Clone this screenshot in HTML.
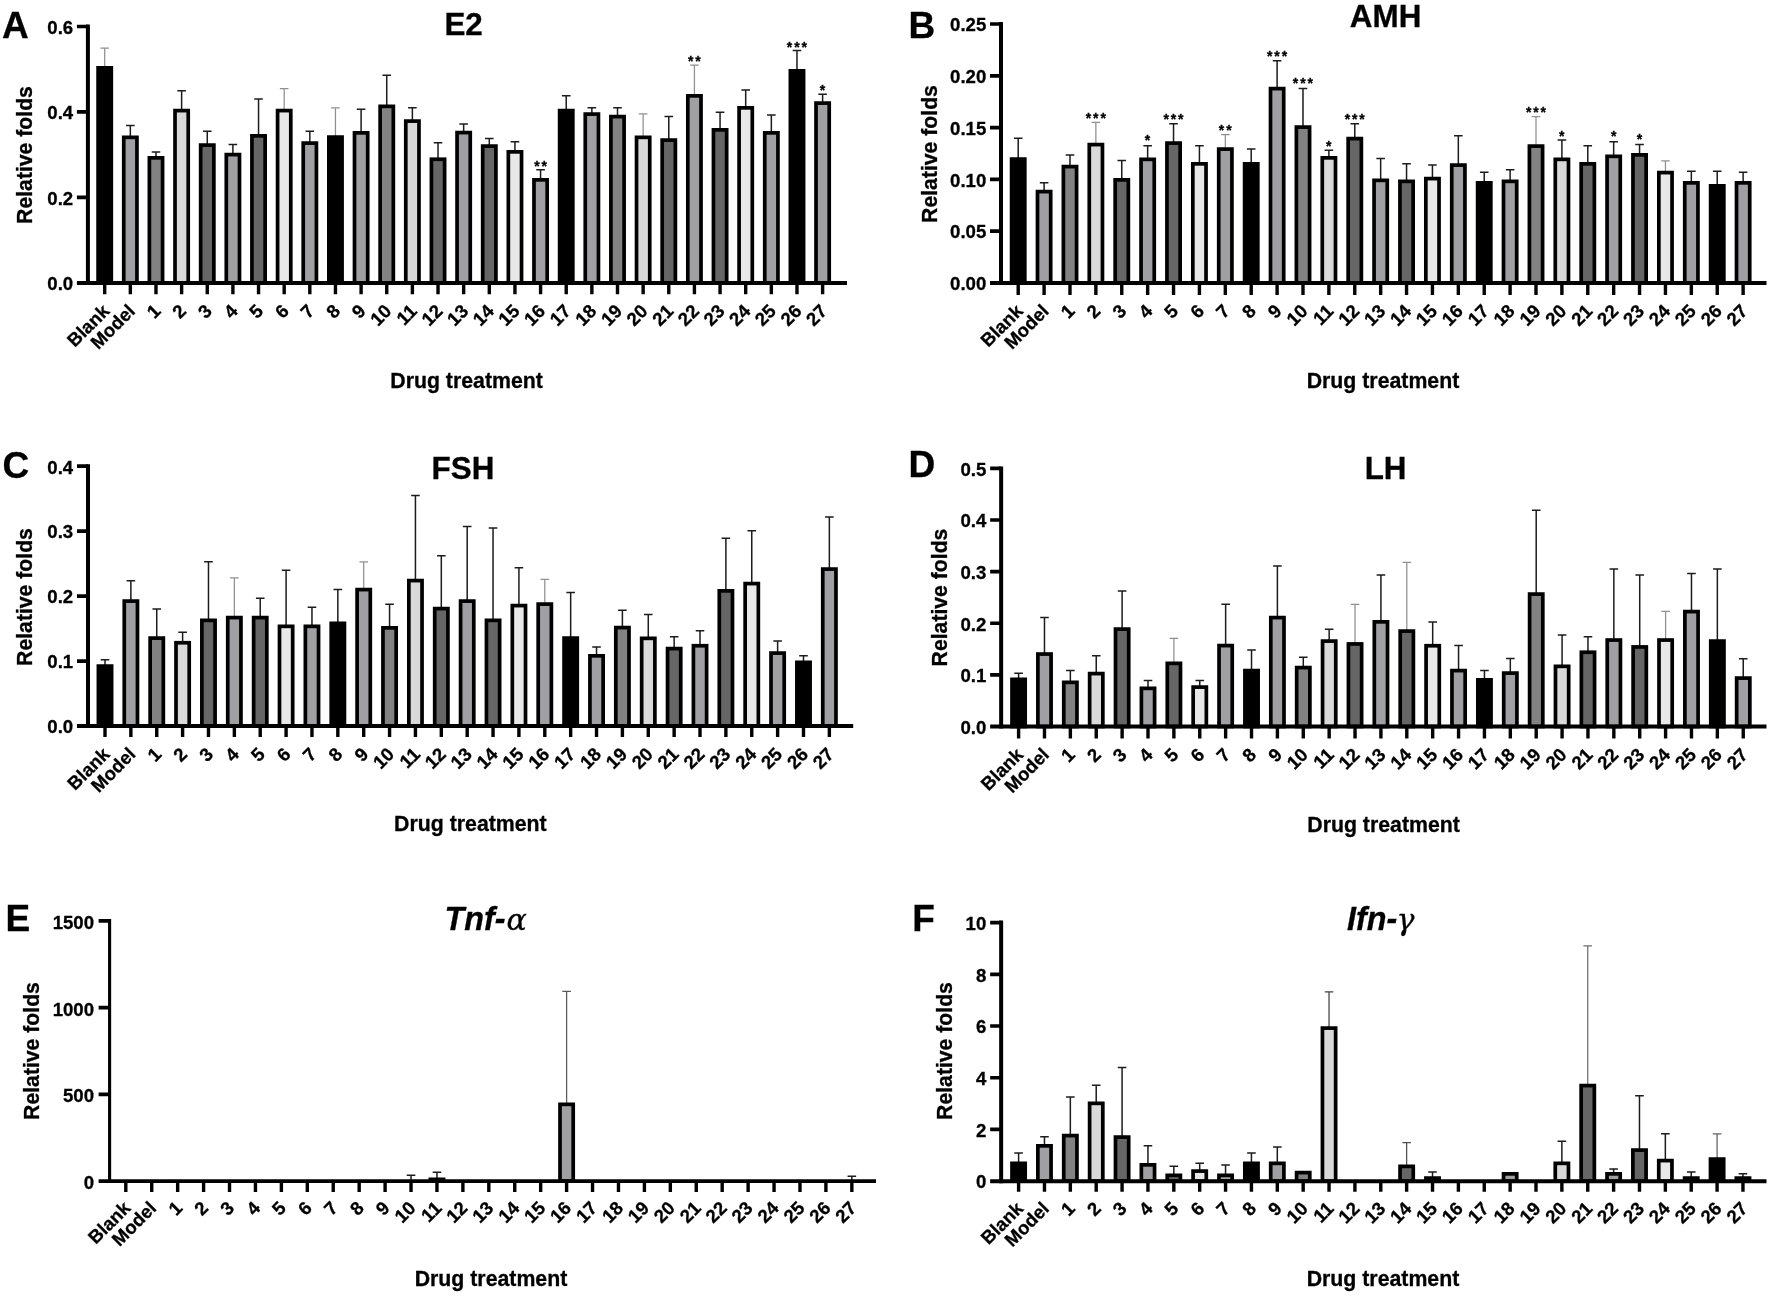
<!DOCTYPE html>
<html lang="en">
<head>
<meta charset="utf-8">
<title>Relative folds by drug treatment</title>
<style>
html,body{margin:0;padding:0;background:#fff;}
body{width:1772px;height:1296px;overflow:hidden;}
svg{display:block;filter:blur(0.45px);}
svg text{font-family:"Liberation Sans", Arial, Helvetica, sans-serif;font-weight:700;fill:#000;stroke:#000;stroke-width:0.3px;}
</style>
</head>
<body>
<svg width="1772" height="1296" viewBox="0 0 1772 1296">
<rect width="1772" height="1296" fill="#fff"/>
<g id="panel-A">
<path d="M104.7 67V48.2M100.4 48.2H109" stroke="#909090" stroke-width="1.25" fill="none"/>
<rect x="98.1" y="67.85" width="13.2" height="215.05" fill="#000000" stroke="#000" stroke-width="3.7"/>
<path d="M130.34 136.5V125.5M126.04 125.5H134.64" stroke="#1c1c1c" stroke-width="1.5" fill="none"/>
<rect x="123.74" y="137.35" width="13.2" height="145.55" fill="#a0a0a4" stroke="#000" stroke-width="3.7"/>
<path d="M155.98 157V152M151.68 152H160.28" stroke="#1c1c1c" stroke-width="1.5" fill="none"/>
<rect x="149.38" y="157.85" width="13.2" height="125.05" fill="#828282" stroke="#000" stroke-width="3.7"/>
<path d="M181.62 109.75V90.75M177.32 90.75H185.92" stroke="#1c1c1c" stroke-width="1.5" fill="none"/>
<rect x="175.02" y="110.6" width="13.2" height="172.3" fill="#d9d9d9" stroke="#000" stroke-width="3.7"/>
<path d="M207.26 144.25V131.25M202.96 131.25H211.56" stroke="#1c1c1c" stroke-width="1.5" fill="none"/>
<rect x="200.66" y="145.1" width="13.2" height="137.8" fill="#666666" stroke="#000" stroke-width="3.7"/>
<path d="M232.9 153.75V144.5M228.6 144.5H237.2" stroke="#1c1c1c" stroke-width="1.5" fill="none"/>
<rect x="226.3" y="154.6" width="13.2" height="128.3" fill="#a0a0a4" stroke="#000" stroke-width="3.7"/>
<path d="M258.54 135V99M254.24 99H262.84" stroke="#1c1c1c" stroke-width="1.5" fill="none"/>
<rect x="251.94" y="135.85" width="13.2" height="147.05" fill="#666666" stroke="#000" stroke-width="3.7"/>
<path d="M284.18 109.75V88.5M279.88 88.5H288.48" stroke="#909090" stroke-width="1.25" fill="none"/>
<rect x="277.58" y="110.6" width="13.2" height="172.3" fill="#e8e8e8" stroke="#000" stroke-width="3.7"/>
<path d="M309.82 142.25V131.25M305.52 131.25H314.12" stroke="#1c1c1c" stroke-width="1.5" fill="none"/>
<rect x="303.22" y="143.1" width="13.2" height="139.8" fill="#a0a0a4" stroke="#000" stroke-width="3.7"/>
<path d="M335.46 136.25V107.75M331.16 107.75H339.76" stroke="#909090" stroke-width="1.25" fill="none"/>
<rect x="328.86" y="137.1" width="13.2" height="145.8" fill="#000000" stroke="#000" stroke-width="3.7"/>
<path d="M361.1 132V109.25M356.8 109.25H365.4" stroke="#1c1c1c" stroke-width="1.5" fill="none"/>
<rect x="354.5" y="132.85" width="13.2" height="150.05" fill="#a0a0a4" stroke="#000" stroke-width="3.7"/>
<path d="M386.74 105.5V75.25M382.44 75.25H391.04" stroke="#1c1c1c" stroke-width="1.5" fill="none"/>
<rect x="380.14" y="106.35" width="13.2" height="176.55" fill="#828282" stroke="#000" stroke-width="3.7"/>
<path d="M412.38 120.25V107.75M408.08 107.75H416.68" stroke="#1c1c1c" stroke-width="1.5" fill="none"/>
<rect x="405.78" y="121.1" width="13.2" height="161.8" fill="#d9d9d9" stroke="#000" stroke-width="3.7"/>
<path d="M438.02 158.4V142.75M433.72 142.75H442.32" stroke="#1c1c1c" stroke-width="1.5" fill="none"/>
<rect x="431.42" y="159.25" width="13.2" height="123.65" fill="#666666" stroke="#000" stroke-width="3.7"/>
<path d="M463.66 131.75V124M459.36 124H467.96" stroke="#1c1c1c" stroke-width="1.5" fill="none"/>
<rect x="457.06" y="132.6" width="13.2" height="150.3" fill="#a0a0a4" stroke="#000" stroke-width="3.7"/>
<path d="M489.3 145.25V138.5M485 138.5H493.6" stroke="#1c1c1c" stroke-width="1.5" fill="none"/>
<rect x="482.7" y="146.1" width="13.2" height="136.8" fill="#666666" stroke="#000" stroke-width="3.7"/>
<path d="M514.94 151V141.75M510.64 141.75H519.24" stroke="#1c1c1c" stroke-width="1.5" fill="none"/>
<rect x="508.34" y="151.85" width="13.2" height="131.05" fill="#e8e8e8" stroke="#000" stroke-width="3.7"/>
<path d="M540.58 179V169.75M536.28 169.75H544.88" stroke="#1c1c1c" stroke-width="1.5" fill="none"/>
<rect x="533.98" y="179.85" width="13.2" height="103.05" fill="#a0a0a4" stroke="#000" stroke-width="3.7"/>
<path d="M566.22 109.75V95.75M561.92 95.75H570.52" stroke="#1c1c1c" stroke-width="1.5" fill="none"/>
<rect x="559.62" y="110.6" width="13.2" height="172.3" fill="#000000" stroke="#000" stroke-width="3.7"/>
<path d="M591.86 113.25V107.75M587.56 107.75H596.16" stroke="#1c1c1c" stroke-width="1.5" fill="none"/>
<rect x="585.26" y="114.1" width="13.2" height="168.8" fill="#a0a0a4" stroke="#000" stroke-width="3.7"/>
<path d="M617.5 115.75V107.75M613.2 107.75H621.8" stroke="#1c1c1c" stroke-width="1.5" fill="none"/>
<rect x="610.9" y="116.6" width="13.2" height="166.3" fill="#828282" stroke="#000" stroke-width="3.7"/>
<path d="M643.14 136.5V113.75M638.84 113.75H647.44" stroke="#909090" stroke-width="1.25" fill="none"/>
<rect x="636.54" y="137.35" width="13.2" height="145.55" fill="#d9d9d9" stroke="#000" stroke-width="3.7"/>
<path d="M668.78 139.25V116.5M664.48 116.5H673.08" stroke="#1c1c1c" stroke-width="1.5" fill="none"/>
<rect x="662.18" y="140.1" width="13.2" height="142.8" fill="#666666" stroke="#000" stroke-width="3.7"/>
<path d="M694.42 95V65M690.12 65H698.72" stroke="#909090" stroke-width="1.25" fill="none"/>
<rect x="687.82" y="95.85" width="13.2" height="187.05" fill="#a0a0a4" stroke="#000" stroke-width="3.7"/>
<path d="M720.06 129V112.25M715.76 112.25H724.36" stroke="#1c1c1c" stroke-width="1.5" fill="none"/>
<rect x="713.46" y="129.85" width="13.2" height="153.05" fill="#666666" stroke="#000" stroke-width="3.7"/>
<path d="M745.7 107V90M741.4 90H750" stroke="#1c1c1c" stroke-width="1.5" fill="none"/>
<rect x="739.1" y="107.85" width="13.2" height="175.05" fill="#e8e8e8" stroke="#000" stroke-width="3.7"/>
<path d="M771.34 132V115M767.04 115H775.64" stroke="#1c1c1c" stroke-width="1.5" fill="none"/>
<rect x="764.74" y="132.85" width="13.2" height="150.05" fill="#a0a0a4" stroke="#000" stroke-width="3.7"/>
<path d="M796.98 70V50.5M792.68 50.5H801.28" stroke="#1c1c1c" stroke-width="1.5" fill="none"/>
<rect x="790.38" y="70.85" width="13.2" height="212.05" fill="#000000" stroke="#000" stroke-width="3.7"/>
<path d="M822.62 102.25V94.25M818.32 94.25H826.92" stroke="#1c1c1c" stroke-width="1.5" fill="none"/>
<rect x="816.02" y="103.1" width="13.2" height="179.8" fill="#a0a0a4" stroke="#000" stroke-width="3.7"/>
<text x="541.48" y="170.75" text-anchor="middle" font-size="14" font-weight="400" letter-spacing="1.9">**</text>
<text x="695.32" y="66.25" text-anchor="middle" font-size="14" font-weight="400" letter-spacing="1.9">**</text>
<text x="797.88" y="51.5" text-anchor="middle" font-size="14" font-weight="400" letter-spacing="1.9">***</text>
<text x="823.52" y="94.5" text-anchor="middle" font-size="14" font-weight="400" letter-spacing="1.9">*</text>
<path d="M87.9 24.5V284.9" stroke="#000" stroke-width="4" fill="none"/>
<path d="M76.9 282.9H847" stroke="#000" stroke-width="4" fill="none"/>
<text x="73.2" y="290.2" text-anchor="end" font-size="18.6">0.0</text>
<text x="73.2" y="204.73" text-anchor="end" font-size="18.6">0.2</text>
<text x="73.2" y="119.27" text-anchor="end" font-size="18.6">0.4</text>
<text x="73.2" y="33.8" text-anchor="end" font-size="18.6">0.6</text>
<path d="M76.9 197.43H87.9M76.9 111.97H87.9M76.9 26.5H87.9" stroke="#000" stroke-width="3.7" fill="none"/>
<text transform="translate(110.5 312.3) rotate(-45)" text-anchor="end" font-size="18.6">Blank</text>
<text transform="translate(136.14 312.3) rotate(-45)" text-anchor="end" font-size="18.6">Model</text>
<text transform="translate(161.78 312.3) rotate(-45)" text-anchor="end" font-size="18.6">1</text>
<text transform="translate(187.42 312.3) rotate(-45)" text-anchor="end" font-size="18.6">2</text>
<text transform="translate(213.06 312.3) rotate(-45)" text-anchor="end" font-size="18.6">3</text>
<text transform="translate(238.7 312.3) rotate(-45)" text-anchor="end" font-size="18.6">4</text>
<text transform="translate(264.34 312.3) rotate(-45)" text-anchor="end" font-size="18.6">5</text>
<text transform="translate(289.98 312.3) rotate(-45)" text-anchor="end" font-size="18.6">6</text>
<text transform="translate(315.62 312.3) rotate(-45)" text-anchor="end" font-size="18.6">7</text>
<text transform="translate(341.26 312.3) rotate(-45)" text-anchor="end" font-size="18.6">8</text>
<text transform="translate(366.9 312.3) rotate(-45)" text-anchor="end" font-size="18.6">9</text>
<text transform="translate(392.54 312.3) rotate(-45)" text-anchor="end" font-size="18.6">10</text>
<text transform="translate(418.18 312.3) rotate(-45)" text-anchor="end" font-size="18.6">11</text>
<text transform="translate(443.82 312.3) rotate(-45)" text-anchor="end" font-size="18.6">12</text>
<text transform="translate(469.46 312.3) rotate(-45)" text-anchor="end" font-size="18.6">13</text>
<text transform="translate(495.1 312.3) rotate(-45)" text-anchor="end" font-size="18.6">14</text>
<text transform="translate(520.74 312.3) rotate(-45)" text-anchor="end" font-size="18.6">15</text>
<text transform="translate(546.38 312.3) rotate(-45)" text-anchor="end" font-size="18.6">16</text>
<text transform="translate(572.02 312.3) rotate(-45)" text-anchor="end" font-size="18.6">17</text>
<text transform="translate(597.66 312.3) rotate(-45)" text-anchor="end" font-size="18.6">18</text>
<text transform="translate(623.3 312.3) rotate(-45)" text-anchor="end" font-size="18.6">19</text>
<text transform="translate(648.94 312.3) rotate(-45)" text-anchor="end" font-size="18.6">20</text>
<text transform="translate(674.58 312.3) rotate(-45)" text-anchor="end" font-size="18.6">21</text>
<text transform="translate(700.22 312.3) rotate(-45)" text-anchor="end" font-size="18.6">22</text>
<text transform="translate(725.86 312.3) rotate(-45)" text-anchor="end" font-size="18.6">23</text>
<text transform="translate(751.5 312.3) rotate(-45)" text-anchor="end" font-size="18.6">24</text>
<text transform="translate(777.14 312.3) rotate(-45)" text-anchor="end" font-size="18.6">25</text>
<text transform="translate(802.78 312.3) rotate(-45)" text-anchor="end" font-size="18.6">26</text>
<text transform="translate(828.42 312.3) rotate(-45)" text-anchor="end" font-size="18.6">27</text>
<path d="M104.7 282.9V294.2M130.34 282.9V294.2M155.98 282.9V294.2M181.62 282.9V294.2M207.26 282.9V294.2M232.9 282.9V294.2M258.54 282.9V294.2M284.18 282.9V294.2M309.82 282.9V294.2M335.46 282.9V294.2M361.1 282.9V294.2M386.74 282.9V294.2M412.38 282.9V294.2M438.02 282.9V294.2M463.66 282.9V294.2M489.3 282.9V294.2M514.94 282.9V294.2M540.58 282.9V294.2M566.22 282.9V294.2M591.86 282.9V294.2M617.5 282.9V294.2M643.14 282.9V294.2M668.78 282.9V294.2M694.42 282.9V294.2M720.06 282.9V294.2M745.7 282.9V294.2M771.34 282.9V294.2M796.98 282.9V294.2M822.62 282.9V294.2" stroke="#000" stroke-width="3.4" fill="none"/>
<text transform="translate(32 155) rotate(-90)" text-anchor="middle" font-size="21.2">Relative folds</text>
<text x="466.6" y="387.6" text-anchor="middle" font-size="21.3">Drug treatment</text>
<text x="463.6" y="34.5" text-anchor="middle" font-size="31.4">E2</text>
<text x="2" y="37.8" font-size="37">A</text>
</g>
<g id="panel-B">
<path d="M1018.2 158.25V138.25M1013.9 138.25H1022.5" stroke="#1c1c1c" stroke-width="1.5" fill="none"/>
<rect x="1011.6" y="159.1" width="13.2" height="123.8" fill="#000000" stroke="#000" stroke-width="3.7"/>
<path d="M1044.09 190.75V182.75M1039.79 182.75H1048.39" stroke="#1c1c1c" stroke-width="1.5" fill="none"/>
<rect x="1037.49" y="191.6" width="13.2" height="91.3" fill="#a0a0a4" stroke="#000" stroke-width="3.7"/>
<path d="M1069.98 165.75V155M1065.68 155H1074.28" stroke="#1c1c1c" stroke-width="1.5" fill="none"/>
<rect x="1063.38" y="166.6" width="13.2" height="116.3" fill="#828282" stroke="#000" stroke-width="3.7"/>
<path d="M1095.87 143.75V122.25M1091.57 122.25H1100.17" stroke="#909090" stroke-width="1.25" fill="none"/>
<rect x="1089.27" y="144.6" width="13.2" height="138.3" fill="#d9d9d9" stroke="#000" stroke-width="3.7"/>
<path d="M1121.76 179V160.5M1117.46 160.5H1126.06" stroke="#1c1c1c" stroke-width="1.5" fill="none"/>
<rect x="1115.16" y="179.85" width="13.2" height="103.05" fill="#666666" stroke="#000" stroke-width="3.7"/>
<path d="M1147.65 158.5V145.75M1143.35 145.75H1151.95" stroke="#1c1c1c" stroke-width="1.5" fill="none"/>
<rect x="1141.05" y="159.35" width="13.2" height="123.55" fill="#a0a0a4" stroke="#000" stroke-width="3.7"/>
<path d="M1173.54 142.25V123.75M1169.24 123.75H1177.84" stroke="#1c1c1c" stroke-width="1.5" fill="none"/>
<rect x="1166.94" y="143.1" width="13.2" height="139.8" fill="#666666" stroke="#000" stroke-width="3.7"/>
<path d="M1199.43 163V145.75M1195.13 145.75H1203.73" stroke="#1c1c1c" stroke-width="1.5" fill="none"/>
<rect x="1192.83" y="163.85" width="13.2" height="119.05" fill="#e8e8e8" stroke="#000" stroke-width="3.7"/>
<path d="M1225.32 148.25V134.5M1221.02 134.5H1229.62" stroke="#909090" stroke-width="1.25" fill="none"/>
<rect x="1218.72" y="149.1" width="13.2" height="133.8" fill="#a0a0a4" stroke="#000" stroke-width="3.7"/>
<path d="M1251.21 163V149M1246.91 149H1255.51" stroke="#1c1c1c" stroke-width="1.5" fill="none"/>
<rect x="1244.61" y="163.85" width="13.2" height="119.05" fill="#000000" stroke="#000" stroke-width="3.7"/>
<path d="M1277.1 87.75V60.75M1272.8 60.75H1281.4" stroke="#1c1c1c" stroke-width="1.5" fill="none"/>
<rect x="1270.5" y="88.6" width="13.2" height="194.3" fill="#a0a0a4" stroke="#000" stroke-width="3.7"/>
<path d="M1302.99 126.25V88.5M1298.69 88.5H1307.29" stroke="#1c1c1c" stroke-width="1.5" fill="none"/>
<rect x="1296.39" y="127.1" width="13.2" height="155.8" fill="#828282" stroke="#000" stroke-width="3.7"/>
<path d="M1328.88 157V150.25M1324.58 150.25H1333.18" stroke="#1c1c1c" stroke-width="1.5" fill="none"/>
<rect x="1322.28" y="157.85" width="13.2" height="125.05" fill="#d9d9d9" stroke="#000" stroke-width="3.7"/>
<path d="M1354.77 137.75V123.75M1350.47 123.75H1359.07" stroke="#1c1c1c" stroke-width="1.5" fill="none"/>
<rect x="1348.17" y="138.6" width="13.2" height="144.3" fill="#666666" stroke="#000" stroke-width="3.7"/>
<path d="M1380.66 179.5V158.5M1376.36 158.5H1384.96" stroke="#1c1c1c" stroke-width="1.5" fill="none"/>
<rect x="1374.06" y="180.35" width="13.2" height="102.55" fill="#a0a0a4" stroke="#000" stroke-width="3.7"/>
<path d="M1406.55 180.5V163.75M1402.25 163.75H1410.85" stroke="#1c1c1c" stroke-width="1.5" fill="none"/>
<rect x="1399.95" y="181.35" width="13.2" height="101.55" fill="#666666" stroke="#000" stroke-width="3.7"/>
<path d="M1432.44 177.75V165M1428.14 165H1436.74" stroke="#1c1c1c" stroke-width="1.5" fill="none"/>
<rect x="1425.84" y="178.6" width="13.2" height="104.3" fill="#e8e8e8" stroke="#000" stroke-width="3.7"/>
<path d="M1458.33 164.25V135.75M1454.03 135.75H1462.63" stroke="#1c1c1c" stroke-width="1.5" fill="none"/>
<rect x="1451.73" y="165.1" width="13.2" height="117.8" fill="#a0a0a4" stroke="#000" stroke-width="3.7"/>
<path d="M1484.22 182V172.25M1479.92 172.25H1488.52" stroke="#1c1c1c" stroke-width="1.5" fill="none"/>
<rect x="1477.62" y="182.85" width="13.2" height="100.05" fill="#000000" stroke="#000" stroke-width="3.7"/>
<path d="M1510.11 180.5V169.75M1505.81 169.75H1514.41" stroke="#1c1c1c" stroke-width="1.5" fill="none"/>
<rect x="1503.51" y="181.35" width="13.2" height="101.55" fill="#a0a0a4" stroke="#000" stroke-width="3.7"/>
<path d="M1536 145.25V116.5M1531.7 116.5H1540.3" stroke="#909090" stroke-width="1.25" fill="none"/>
<rect x="1529.4" y="146.1" width="13.2" height="136.8" fill="#828282" stroke="#000" stroke-width="3.7"/>
<path d="M1561.89 158.5V140M1557.59 140H1566.19" stroke="#1c1c1c" stroke-width="1.5" fill="none"/>
<rect x="1555.29" y="159.35" width="13.2" height="123.55" fill="#d9d9d9" stroke="#000" stroke-width="3.7"/>
<path d="M1587.78 163V145.75M1583.48 145.75H1592.08" stroke="#1c1c1c" stroke-width="1.5" fill="none"/>
<rect x="1581.18" y="163.85" width="13.2" height="119.05" fill="#666666" stroke="#000" stroke-width="3.7"/>
<path d="M1613.67 155.5V141.75M1609.37 141.75H1617.97" stroke="#1c1c1c" stroke-width="1.5" fill="none"/>
<rect x="1607.07" y="156.35" width="13.2" height="126.55" fill="#a0a0a4" stroke="#000" stroke-width="3.7"/>
<path d="M1639.56 154V144.5M1635.26 144.5H1643.86" stroke="#1c1c1c" stroke-width="1.5" fill="none"/>
<rect x="1632.96" y="154.85" width="13.2" height="128.05" fill="#666666" stroke="#000" stroke-width="3.7"/>
<path d="M1665.45 171.75V160.75M1661.15 160.75H1669.75" stroke="#909090" stroke-width="1.25" fill="none"/>
<rect x="1658.85" y="172.6" width="13.2" height="110.3" fill="#e8e8e8" stroke="#000" stroke-width="3.7"/>
<path d="M1691.34 182V171.25M1687.04 171.25H1695.64" stroke="#1c1c1c" stroke-width="1.5" fill="none"/>
<rect x="1684.74" y="182.85" width="13.2" height="100.05" fill="#a0a0a4" stroke="#000" stroke-width="3.7"/>
<path d="M1717.23 185V171.25M1712.93 171.25H1721.53" stroke="#1c1c1c" stroke-width="1.5" fill="none"/>
<rect x="1710.63" y="185.85" width="13.2" height="97.05" fill="#000000" stroke="#000" stroke-width="3.7"/>
<path d="M1743.12 182V172.25M1738.82 172.25H1747.42" stroke="#1c1c1c" stroke-width="1.5" fill="none"/>
<rect x="1736.52" y="182.85" width="13.2" height="100.05" fill="#a0a0a4" stroke="#000" stroke-width="3.7"/>
<text x="1096.77" y="122.75" text-anchor="middle" font-size="14" font-weight="400" letter-spacing="1.9">***</text>
<text x="1148.55" y="144.75" text-anchor="middle" font-size="14" font-weight="400" letter-spacing="1.9">*</text>
<text x="1174.44" y="123.75" text-anchor="middle" font-size="14" font-weight="400" letter-spacing="1.9">***</text>
<text x="1226.22" y="135.25" text-anchor="middle" font-size="14" font-weight="400" letter-spacing="1.9">**</text>
<text x="1278" y="60.75" text-anchor="middle" font-size="14" font-weight="400" letter-spacing="1.9">***</text>
<text x="1303.89" y="88.25" text-anchor="middle" font-size="14" font-weight="400" letter-spacing="1.9">***</text>
<text x="1329.78" y="151.25" text-anchor="middle" font-size="14" font-weight="400" letter-spacing="1.9">*</text>
<text x="1355.67" y="123.75" text-anchor="middle" font-size="14" font-weight="400" letter-spacing="1.9">***</text>
<text x="1536.9" y="117" text-anchor="middle" font-size="14" font-weight="400" letter-spacing="1.9">***</text>
<text x="1562.79" y="141.25" text-anchor="middle" font-size="14" font-weight="400" letter-spacing="1.9">*</text>
<text x="1614.57" y="141.25" text-anchor="middle" font-size="14" font-weight="400" letter-spacing="1.9">*</text>
<text x="1640.46" y="144.25" text-anchor="middle" font-size="14" font-weight="400" letter-spacing="1.9">*</text>
<path d="M1001 22V284.9" stroke="#000" stroke-width="4" fill="none"/>
<path d="M990 282.9H1766.5" stroke="#000" stroke-width="4" fill="none"/>
<text x="986.3" y="290.2" text-anchor="end" font-size="18.6">0.00</text>
<text x="986.3" y="238.42" text-anchor="end" font-size="18.6">0.05</text>
<text x="986.3" y="186.64" text-anchor="end" font-size="18.6">0.10</text>
<text x="986.3" y="134.86" text-anchor="end" font-size="18.6">0.15</text>
<text x="986.3" y="83.08" text-anchor="end" font-size="18.6">0.20</text>
<text x="986.3" y="31.3" text-anchor="end" font-size="18.6">0.25</text>
<path d="M990 231.12H1001M990 179.34H1001M990 127.56H1001M990 75.78H1001M990 24H1001" stroke="#000" stroke-width="3.7" fill="none"/>
<text transform="translate(1024 312.3) rotate(-45)" text-anchor="end" font-size="18.6">Blank</text>
<text transform="translate(1049.89 312.3) rotate(-45)" text-anchor="end" font-size="18.6">Model</text>
<text transform="translate(1075.78 312.3) rotate(-45)" text-anchor="end" font-size="18.6">1</text>
<text transform="translate(1101.67 312.3) rotate(-45)" text-anchor="end" font-size="18.6">2</text>
<text transform="translate(1127.56 312.3) rotate(-45)" text-anchor="end" font-size="18.6">3</text>
<text transform="translate(1153.45 312.3) rotate(-45)" text-anchor="end" font-size="18.6">4</text>
<text transform="translate(1179.34 312.3) rotate(-45)" text-anchor="end" font-size="18.6">5</text>
<text transform="translate(1205.23 312.3) rotate(-45)" text-anchor="end" font-size="18.6">6</text>
<text transform="translate(1231.12 312.3) rotate(-45)" text-anchor="end" font-size="18.6">7</text>
<text transform="translate(1257.01 312.3) rotate(-45)" text-anchor="end" font-size="18.6">8</text>
<text transform="translate(1282.9 312.3) rotate(-45)" text-anchor="end" font-size="18.6">9</text>
<text transform="translate(1308.79 312.3) rotate(-45)" text-anchor="end" font-size="18.6">10</text>
<text transform="translate(1334.68 312.3) rotate(-45)" text-anchor="end" font-size="18.6">11</text>
<text transform="translate(1360.57 312.3) rotate(-45)" text-anchor="end" font-size="18.6">12</text>
<text transform="translate(1386.46 312.3) rotate(-45)" text-anchor="end" font-size="18.6">13</text>
<text transform="translate(1412.35 312.3) rotate(-45)" text-anchor="end" font-size="18.6">14</text>
<text transform="translate(1438.24 312.3) rotate(-45)" text-anchor="end" font-size="18.6">15</text>
<text transform="translate(1464.13 312.3) rotate(-45)" text-anchor="end" font-size="18.6">16</text>
<text transform="translate(1490.02 312.3) rotate(-45)" text-anchor="end" font-size="18.6">17</text>
<text transform="translate(1515.91 312.3) rotate(-45)" text-anchor="end" font-size="18.6">18</text>
<text transform="translate(1541.8 312.3) rotate(-45)" text-anchor="end" font-size="18.6">19</text>
<text transform="translate(1567.69 312.3) rotate(-45)" text-anchor="end" font-size="18.6">20</text>
<text transform="translate(1593.58 312.3) rotate(-45)" text-anchor="end" font-size="18.6">21</text>
<text transform="translate(1619.47 312.3) rotate(-45)" text-anchor="end" font-size="18.6">22</text>
<text transform="translate(1645.36 312.3) rotate(-45)" text-anchor="end" font-size="18.6">23</text>
<text transform="translate(1671.25 312.3) rotate(-45)" text-anchor="end" font-size="18.6">24</text>
<text transform="translate(1697.14 312.3) rotate(-45)" text-anchor="end" font-size="18.6">25</text>
<text transform="translate(1723.03 312.3) rotate(-45)" text-anchor="end" font-size="18.6">26</text>
<text transform="translate(1748.92 312.3) rotate(-45)" text-anchor="end" font-size="18.6">27</text>
<path d="M1018.2 282.9V295M1044.09 282.9V295M1069.98 282.9V295M1095.87 282.9V295M1121.76 282.9V295M1147.65 282.9V295M1173.54 282.9V295M1199.43 282.9V295M1225.32 282.9V295M1251.21 282.9V295M1277.1 282.9V295M1302.99 282.9V295M1328.88 282.9V295M1354.77 282.9V295M1380.66 282.9V295M1406.55 282.9V295M1432.44 282.9V295M1458.33 282.9V295M1484.22 282.9V295M1510.11 282.9V295M1536 282.9V295M1561.89 282.9V295M1587.78 282.9V295M1613.67 282.9V295M1639.56 282.9V295M1665.45 282.9V295M1691.34 282.9V295M1717.23 282.9V295M1743.12 282.9V295" stroke="#000" stroke-width="3.4" fill="none"/>
<text transform="translate(936.5 154) rotate(-90)" text-anchor="middle" font-size="21.2">Relative folds</text>
<text x="1383" y="387.6" text-anchor="middle" font-size="21.3">Drug treatment</text>
<text x="1385.6" y="27" text-anchor="middle" font-size="31.4">AMH</text>
<text x="908.5" y="37.6" font-size="37">B</text>
</g>
<g id="panel-C">
<path d="M105 665.25V659.75M100.7 659.75H109.3" stroke="#1c1c1c" stroke-width="1.5" fill="none"/>
<rect x="98.4" y="666.1" width="13.2" height="59.9" fill="#000000" stroke="#000" stroke-width="3.7"/>
<path d="M130.87 600.25V580.75M126.57 580.75H135.17" stroke="#1c1c1c" stroke-width="1.5" fill="none"/>
<rect x="124.27" y="601.1" width="13.2" height="124.9" fill="#a0a0a4" stroke="#000" stroke-width="3.7"/>
<path d="M156.74 637.25V609M152.44 609H161.04" stroke="#1c1c1c" stroke-width="1.5" fill="none"/>
<rect x="150.14" y="638.1" width="13.2" height="87.9" fill="#828282" stroke="#000" stroke-width="3.7"/>
<path d="M182.61 641.9V632.25M178.31 632.25H186.91" stroke="#1c1c1c" stroke-width="1.5" fill="none"/>
<rect x="176.01" y="642.75" width="13.2" height="83.25" fill="#d9d9d9" stroke="#000" stroke-width="3.7"/>
<path d="M208.48 619.5V561.75M204.18 561.75H212.78" stroke="#1c1c1c" stroke-width="1.5" fill="none"/>
<rect x="201.88" y="620.35" width="13.2" height="105.65" fill="#666666" stroke="#000" stroke-width="3.7"/>
<path d="M234.35 616.75V577.75M230.05 577.75H238.65" stroke="#909090" stroke-width="1.25" fill="none"/>
<rect x="227.75" y="617.6" width="13.2" height="108.4" fill="#a0a0a4" stroke="#000" stroke-width="3.7"/>
<path d="M260.22 616.75V598.25M255.92 598.25H264.52" stroke="#1c1c1c" stroke-width="1.5" fill="none"/>
<rect x="253.62" y="617.6" width="13.2" height="108.4" fill="#666666" stroke="#000" stroke-width="3.7"/>
<path d="M286.09 625.5V570.25M281.79 570.25H290.39" stroke="#1c1c1c" stroke-width="1.5" fill="none"/>
<rect x="279.49" y="626.35" width="13.2" height="99.65" fill="#e8e8e8" stroke="#000" stroke-width="3.7"/>
<path d="M311.96 625.5V607.25M307.66 607.25H316.26" stroke="#1c1c1c" stroke-width="1.5" fill="none"/>
<rect x="305.36" y="626.35" width="13.2" height="99.65" fill="#a0a0a4" stroke="#000" stroke-width="3.7"/>
<path d="M337.83 622.5V589.5M333.53 589.5H342.13" stroke="#1c1c1c" stroke-width="1.5" fill="none"/>
<rect x="331.23" y="623.35" width="13.2" height="102.65" fill="#000000" stroke="#000" stroke-width="3.7"/>
<path d="M363.7 588.75V561.75M359.4 561.75H368" stroke="#909090" stroke-width="1.25" fill="none"/>
<rect x="357.1" y="589.6" width="13.2" height="136.4" fill="#a0a0a4" stroke="#000" stroke-width="3.7"/>
<path d="M389.57 627V604.25M385.27 604.25H393.87" stroke="#1c1c1c" stroke-width="1.5" fill="none"/>
<rect x="382.97" y="627.85" width="13.2" height="98.15" fill="#828282" stroke="#000" stroke-width="3.7"/>
<path d="M415.44 579.75V495.5M411.14 495.5H419.74" stroke="#1c1c1c" stroke-width="1.5" fill="none"/>
<rect x="408.84" y="580.6" width="13.2" height="145.4" fill="#d9d9d9" stroke="#000" stroke-width="3.7"/>
<path d="M441.31 607.75V555.75M437.01 555.75H445.61" stroke="#1c1c1c" stroke-width="1.5" fill="none"/>
<rect x="434.71" y="608.6" width="13.2" height="117.4" fill="#666666" stroke="#000" stroke-width="3.7"/>
<path d="M467.18 600.25V526.5M462.88 526.5H471.48" stroke="#1c1c1c" stroke-width="1.5" fill="none"/>
<rect x="460.58" y="601.1" width="13.2" height="124.9" fill="#a0a0a4" stroke="#000" stroke-width="3.7"/>
<path d="M493.05 619.5V528M488.75 528H497.35" stroke="#1c1c1c" stroke-width="1.5" fill="none"/>
<rect x="486.45" y="620.35" width="13.2" height="105.65" fill="#666666" stroke="#000" stroke-width="3.7"/>
<path d="M518.92 604.75V567.75M514.62 567.75H523.22" stroke="#1c1c1c" stroke-width="1.5" fill="none"/>
<rect x="512.32" y="605.6" width="13.2" height="120.4" fill="#e8e8e8" stroke="#000" stroke-width="3.7"/>
<path d="M544.79 603.25V579.25M540.49 579.25H549.09" stroke="#909090" stroke-width="1.25" fill="none"/>
<rect x="538.19" y="604.1" width="13.2" height="121.9" fill="#a0a0a4" stroke="#000" stroke-width="3.7"/>
<path d="M570.66 637.25V592.5M566.36 592.5H574.96" stroke="#1c1c1c" stroke-width="1.5" fill="none"/>
<rect x="564.06" y="638.1" width="13.2" height="87.9" fill="#000000" stroke="#000" stroke-width="3.7"/>
<path d="M596.53 655V647M592.23 647H600.83" stroke="#1c1c1c" stroke-width="1.5" fill="none"/>
<rect x="589.93" y="655.85" width="13.2" height="70.15" fill="#a0a0a4" stroke="#000" stroke-width="3.7"/>
<path d="M622.4 626.75V610.25M618.1 610.25H626.7" stroke="#1c1c1c" stroke-width="1.5" fill="none"/>
<rect x="615.8" y="627.6" width="13.2" height="98.4" fill="#828282" stroke="#000" stroke-width="3.7"/>
<path d="M648.27 637.5V614.5M643.97 614.5H652.57" stroke="#1c1c1c" stroke-width="1.5" fill="none"/>
<rect x="641.67" y="638.35" width="13.2" height="87.65" fill="#d9d9d9" stroke="#000" stroke-width="3.7"/>
<path d="M674.14 647.75V636.75M669.84 636.75H678.44" stroke="#1c1c1c" stroke-width="1.5" fill="none"/>
<rect x="667.54" y="648.6" width="13.2" height="77.4" fill="#666666" stroke="#000" stroke-width="3.7"/>
<path d="M700.01 644.9V630.75M695.71 630.75H704.31" stroke="#1c1c1c" stroke-width="1.5" fill="none"/>
<rect x="693.41" y="645.75" width="13.2" height="80.25" fill="#a0a0a4" stroke="#000" stroke-width="3.7"/>
<path d="M725.88 590V538.25M721.58 538.25H730.18" stroke="#1c1c1c" stroke-width="1.5" fill="none"/>
<rect x="719.28" y="590.85" width="13.2" height="135.15" fill="#666666" stroke="#000" stroke-width="3.7"/>
<path d="M751.75 582.75V530.75M747.45 530.75H756.05" stroke="#1c1c1c" stroke-width="1.5" fill="none"/>
<rect x="745.15" y="583.6" width="13.2" height="142.4" fill="#e8e8e8" stroke="#000" stroke-width="3.7"/>
<path d="M777.62 652.25V641M773.32 641H781.92" stroke="#1c1c1c" stroke-width="1.5" fill="none"/>
<rect x="771.02" y="653.1" width="13.2" height="72.9" fill="#a0a0a4" stroke="#000" stroke-width="3.7"/>
<path d="M803.49 661.5V655.75M799.19 655.75H807.79" stroke="#1c1c1c" stroke-width="1.5" fill="none"/>
<rect x="796.89" y="662.35" width="13.2" height="63.65" fill="#000000" stroke="#000" stroke-width="3.7"/>
<path d="M829.36 568.25V517M825.06 517H833.66" stroke="#1c1c1c" stroke-width="1.5" fill="none"/>
<rect x="822.76" y="569.1" width="13.2" height="156.9" fill="#a0a0a4" stroke="#000" stroke-width="3.7"/>
<path d="M88 464.2V728" stroke="#000" stroke-width="4" fill="none"/>
<path d="M77 726H853.2" stroke="#000" stroke-width="4" fill="none"/>
<text x="73.2" y="733.3" text-anchor="end" font-size="18.6">0.0</text>
<text x="73.2" y="668.35" text-anchor="end" font-size="18.6">0.1</text>
<text x="73.2" y="603.4" text-anchor="end" font-size="18.6">0.2</text>
<text x="73.2" y="538.45" text-anchor="end" font-size="18.6">0.3</text>
<text x="73.2" y="473.5" text-anchor="end" font-size="18.6">0.4</text>
<path d="M77 661.05H88M77 596.1H88M77 531.15H88M77 466.2H88" stroke="#000" stroke-width="3.7" fill="none"/>
<text transform="translate(110.8 755.4) rotate(-45)" text-anchor="end" font-size="18.6">Blank</text>
<text transform="translate(136.67 755.4) rotate(-45)" text-anchor="end" font-size="18.6">Model</text>
<text transform="translate(162.54 755.4) rotate(-45)" text-anchor="end" font-size="18.6">1</text>
<text transform="translate(188.41 755.4) rotate(-45)" text-anchor="end" font-size="18.6">2</text>
<text transform="translate(214.28 755.4) rotate(-45)" text-anchor="end" font-size="18.6">3</text>
<text transform="translate(240.15 755.4) rotate(-45)" text-anchor="end" font-size="18.6">4</text>
<text transform="translate(266.02 755.4) rotate(-45)" text-anchor="end" font-size="18.6">5</text>
<text transform="translate(291.89 755.4) rotate(-45)" text-anchor="end" font-size="18.6">6</text>
<text transform="translate(317.76 755.4) rotate(-45)" text-anchor="end" font-size="18.6">7</text>
<text transform="translate(343.63 755.4) rotate(-45)" text-anchor="end" font-size="18.6">8</text>
<text transform="translate(369.5 755.4) rotate(-45)" text-anchor="end" font-size="18.6">9</text>
<text transform="translate(395.37 755.4) rotate(-45)" text-anchor="end" font-size="18.6">10</text>
<text transform="translate(421.24 755.4) rotate(-45)" text-anchor="end" font-size="18.6">11</text>
<text transform="translate(447.11 755.4) rotate(-45)" text-anchor="end" font-size="18.6">12</text>
<text transform="translate(472.98 755.4) rotate(-45)" text-anchor="end" font-size="18.6">13</text>
<text transform="translate(498.85 755.4) rotate(-45)" text-anchor="end" font-size="18.6">14</text>
<text transform="translate(524.72 755.4) rotate(-45)" text-anchor="end" font-size="18.6">15</text>
<text transform="translate(550.59 755.4) rotate(-45)" text-anchor="end" font-size="18.6">16</text>
<text transform="translate(576.46 755.4) rotate(-45)" text-anchor="end" font-size="18.6">17</text>
<text transform="translate(602.33 755.4) rotate(-45)" text-anchor="end" font-size="18.6">18</text>
<text transform="translate(628.2 755.4) rotate(-45)" text-anchor="end" font-size="18.6">19</text>
<text transform="translate(654.07 755.4) rotate(-45)" text-anchor="end" font-size="18.6">20</text>
<text transform="translate(679.94 755.4) rotate(-45)" text-anchor="end" font-size="18.6">21</text>
<text transform="translate(705.81 755.4) rotate(-45)" text-anchor="end" font-size="18.6">22</text>
<text transform="translate(731.68 755.4) rotate(-45)" text-anchor="end" font-size="18.6">23</text>
<text transform="translate(757.55 755.4) rotate(-45)" text-anchor="end" font-size="18.6">24</text>
<text transform="translate(783.42 755.4) rotate(-45)" text-anchor="end" font-size="18.6">25</text>
<text transform="translate(809.29 755.4) rotate(-45)" text-anchor="end" font-size="18.6">26</text>
<text transform="translate(835.16 755.4) rotate(-45)" text-anchor="end" font-size="18.6">27</text>
<path d="M105 726V737M130.87 726V737M156.74 726V737M182.61 726V737M208.48 726V737M234.35 726V737M260.22 726V737M286.09 726V737M311.96 726V737M337.83 726V737M363.7 726V737M389.57 726V737M415.44 726V737M441.31 726V737M467.18 726V737M493.05 726V737M518.92 726V737M544.79 726V737M570.66 726V737M596.53 726V737M622.4 726V737M648.27 726V737M674.14 726V737M700.01 726V737M725.88 726V737M751.75 726V737M777.62 726V737M803.49 726V737M829.36 726V737" stroke="#000" stroke-width="3.4" fill="none"/>
<text transform="translate(32 597) rotate(-90)" text-anchor="middle" font-size="21.2">Relative folds</text>
<text x="470.4" y="831.3" text-anchor="middle" font-size="21.3">Drug treatment</text>
<text x="463" y="478.8" text-anchor="middle" font-size="31.4">FSH</text>
<text x="2.5" y="477.8" font-size="37">C</text>
</g>
<g id="panel-D">
<path d="M1018.6 678.5V673.25M1014.3 673.25H1022.9" stroke="#1c1c1c" stroke-width="1.5" fill="none"/>
<rect x="1012" y="679.35" width="13.2" height="47.15" fill="#000000" stroke="#000" stroke-width="3.7"/>
<path d="M1044.48 653.2V617.5M1040.18 617.5H1048.78" stroke="#1c1c1c" stroke-width="1.5" fill="none"/>
<rect x="1037.88" y="654.05" width="13.2" height="72.45" fill="#a0a0a4" stroke="#000" stroke-width="3.7"/>
<path d="M1070.36 681.5V670.5M1066.06 670.5H1074.66" stroke="#1c1c1c" stroke-width="1.5" fill="none"/>
<rect x="1063.76" y="682.35" width="13.2" height="44.15" fill="#828282" stroke="#000" stroke-width="3.7"/>
<path d="M1096.24 672.75V655.75M1091.94 655.75H1100.54" stroke="#1c1c1c" stroke-width="1.5" fill="none"/>
<rect x="1089.64" y="673.6" width="13.2" height="52.9" fill="#d9d9d9" stroke="#000" stroke-width="3.7"/>
<path d="M1122.12 628.25V591M1117.82 591H1126.42" stroke="#1c1c1c" stroke-width="1.5" fill="none"/>
<rect x="1115.52" y="629.1" width="13.2" height="97.4" fill="#666666" stroke="#000" stroke-width="3.7"/>
<path d="M1148 687.5V680.5M1143.7 680.5H1152.3" stroke="#1c1c1c" stroke-width="1.5" fill="none"/>
<rect x="1141.4" y="688.35" width="13.2" height="38.15" fill="#a0a0a4" stroke="#000" stroke-width="3.7"/>
<path d="M1173.88 662.5V638.25M1169.58 638.25H1178.18" stroke="#909090" stroke-width="1.25" fill="none"/>
<rect x="1167.28" y="663.35" width="13.2" height="63.15" fill="#666666" stroke="#000" stroke-width="3.7"/>
<path d="M1199.76 686.25V680.5M1195.46 680.5H1204.06" stroke="#1c1c1c" stroke-width="1.5" fill="none"/>
<rect x="1193.16" y="687.1" width="13.2" height="39.4" fill="#e8e8e8" stroke="#000" stroke-width="3.7"/>
<path d="M1225.64 644.75V604.25M1221.34 604.25H1229.94" stroke="#1c1c1c" stroke-width="1.5" fill="none"/>
<rect x="1219.04" y="645.6" width="13.2" height="80.9" fill="#a0a0a4" stroke="#000" stroke-width="3.7"/>
<path d="M1251.52 669.75V650M1247.22 650H1255.82" stroke="#1c1c1c" stroke-width="1.5" fill="none"/>
<rect x="1244.92" y="670.6" width="13.2" height="55.9" fill="#000000" stroke="#000" stroke-width="3.7"/>
<path d="M1277.4 616.75V566M1273.1 566H1281.7" stroke="#1c1c1c" stroke-width="1.5" fill="none"/>
<rect x="1270.8" y="617.6" width="13.2" height="108.9" fill="#a0a0a4" stroke="#000" stroke-width="3.7"/>
<path d="M1303.28 666.75V657.25M1298.98 657.25H1307.58" stroke="#1c1c1c" stroke-width="1.5" fill="none"/>
<rect x="1296.68" y="667.6" width="13.2" height="58.9" fill="#828282" stroke="#000" stroke-width="3.7"/>
<path d="M1329.16 640.25V629.25M1324.86 629.25H1333.46" stroke="#1c1c1c" stroke-width="1.5" fill="none"/>
<rect x="1322.56" y="641.1" width="13.2" height="85.4" fill="#d9d9d9" stroke="#000" stroke-width="3.7"/>
<path d="M1355.04 643.1V604.25M1350.74 604.25H1359.34" stroke="#909090" stroke-width="1.25" fill="none"/>
<rect x="1348.44" y="643.95" width="13.2" height="82.55" fill="#666666" stroke="#000" stroke-width="3.7"/>
<path d="M1380.92 621V575M1376.62 575H1385.22" stroke="#1c1c1c" stroke-width="1.5" fill="none"/>
<rect x="1374.32" y="621.85" width="13.2" height="104.65" fill="#a0a0a4" stroke="#000" stroke-width="3.7"/>
<path d="M1406.8 630.25V562.25M1402.5 562.25H1411.1" stroke="#909090" stroke-width="1.25" fill="none"/>
<rect x="1400.2" y="631.1" width="13.2" height="95.4" fill="#666666" stroke="#000" stroke-width="3.7"/>
<path d="M1432.68 644.9V622M1428.38 622H1436.98" stroke="#1c1c1c" stroke-width="1.5" fill="none"/>
<rect x="1426.08" y="645.75" width="13.2" height="80.75" fill="#e8e8e8" stroke="#000" stroke-width="3.7"/>
<path d="M1458.56 669.75V645.5M1454.26 645.5H1462.86" stroke="#1c1c1c" stroke-width="1.5" fill="none"/>
<rect x="1451.96" y="670.6" width="13.2" height="55.9" fill="#a0a0a4" stroke="#000" stroke-width="3.7"/>
<path d="M1484.44 679V670.5M1480.14 670.5H1488.74" stroke="#1c1c1c" stroke-width="1.5" fill="none"/>
<rect x="1477.84" y="679.85" width="13.2" height="46.65" fill="#000000" stroke="#000" stroke-width="3.7"/>
<path d="M1510.32 672.25V658.5M1506.02 658.5H1514.62" stroke="#1c1c1c" stroke-width="1.5" fill="none"/>
<rect x="1503.72" y="673.1" width="13.2" height="53.4" fill="#a0a0a4" stroke="#000" stroke-width="3.7"/>
<path d="M1536.2 593.25V510.25M1531.9 510.25H1540.5" stroke="#1c1c1c" stroke-width="1.5" fill="none"/>
<rect x="1529.6" y="594.1" width="13.2" height="132.4" fill="#828282" stroke="#000" stroke-width="3.7"/>
<path d="M1562.08 665.5V635M1557.78 635H1566.38" stroke="#1c1c1c" stroke-width="1.5" fill="none"/>
<rect x="1555.48" y="666.35" width="13.2" height="60.15" fill="#d9d9d9" stroke="#000" stroke-width="3.7"/>
<path d="M1587.96 651.4V636.75M1583.66 636.75H1592.26" stroke="#1c1c1c" stroke-width="1.5" fill="none"/>
<rect x="1581.36" y="652.25" width="13.2" height="74.25" fill="#666666" stroke="#000" stroke-width="3.7"/>
<path d="M1613.84 639.2V569M1609.54 569H1618.14" stroke="#1c1c1c" stroke-width="1.5" fill="none"/>
<rect x="1607.24" y="640.05" width="13.2" height="86.45" fill="#a0a0a4" stroke="#000" stroke-width="3.7"/>
<path d="M1639.72 646.1V575M1635.42 575H1644.02" stroke="#1c1c1c" stroke-width="1.5" fill="none"/>
<rect x="1633.12" y="646.95" width="13.2" height="79.55" fill="#666666" stroke="#000" stroke-width="3.7"/>
<path d="M1665.6 639.2V611.25M1661.3 611.25H1669.9" stroke="#909090" stroke-width="1.25" fill="none"/>
<rect x="1659" y="640.05" width="13.2" height="86.45" fill="#e8e8e8" stroke="#000" stroke-width="3.7"/>
<path d="M1691.48 610.75V573.5M1687.18 573.5H1695.78" stroke="#1c1c1c" stroke-width="1.5" fill="none"/>
<rect x="1684.88" y="611.6" width="13.2" height="114.9" fill="#a0a0a4" stroke="#000" stroke-width="3.7"/>
<path d="M1717.36 640.25V569M1713.06 569H1721.66" stroke="#1c1c1c" stroke-width="1.5" fill="none"/>
<rect x="1710.76" y="641.1" width="13.2" height="85.4" fill="#000000" stroke="#000" stroke-width="3.7"/>
<path d="M1743.24 677.25V658.75M1738.94 658.75H1747.54" stroke="#1c1c1c" stroke-width="1.5" fill="none"/>
<rect x="1736.64" y="678.1" width="13.2" height="48.4" fill="#a0a0a4" stroke="#000" stroke-width="3.7"/>
<path d="M1001.15 466.4V728.5" stroke="#000" stroke-width="4" fill="none"/>
<path d="M990.15 726.5H1766.5" stroke="#000" stroke-width="4" fill="none"/>
<text x="986.3" y="733.8" text-anchor="end" font-size="18.6">0.0</text>
<text x="986.3" y="682.18" text-anchor="end" font-size="18.6">0.1</text>
<text x="986.3" y="630.56" text-anchor="end" font-size="18.6">0.2</text>
<text x="986.3" y="578.94" text-anchor="end" font-size="18.6">0.3</text>
<text x="986.3" y="527.32" text-anchor="end" font-size="18.6">0.4</text>
<text x="986.3" y="475.7" text-anchor="end" font-size="18.6">0.5</text>
<path d="M990.15 674.88H1001.15M990.15 623.26H1001.15M990.15 571.64H1001.15M990.15 520.02H1001.15M990.15 468.4H1001.15" stroke="#000" stroke-width="3.7" fill="none"/>
<text transform="translate(1024.4 755.9) rotate(-45)" text-anchor="end" font-size="18.6">Blank</text>
<text transform="translate(1050.28 755.9) rotate(-45)" text-anchor="end" font-size="18.6">Model</text>
<text transform="translate(1076.16 755.9) rotate(-45)" text-anchor="end" font-size="18.6">1</text>
<text transform="translate(1102.04 755.9) rotate(-45)" text-anchor="end" font-size="18.6">2</text>
<text transform="translate(1127.92 755.9) rotate(-45)" text-anchor="end" font-size="18.6">3</text>
<text transform="translate(1153.8 755.9) rotate(-45)" text-anchor="end" font-size="18.6">4</text>
<text transform="translate(1179.68 755.9) rotate(-45)" text-anchor="end" font-size="18.6">5</text>
<text transform="translate(1205.56 755.9) rotate(-45)" text-anchor="end" font-size="18.6">6</text>
<text transform="translate(1231.44 755.9) rotate(-45)" text-anchor="end" font-size="18.6">7</text>
<text transform="translate(1257.32 755.9) rotate(-45)" text-anchor="end" font-size="18.6">8</text>
<text transform="translate(1283.2 755.9) rotate(-45)" text-anchor="end" font-size="18.6">9</text>
<text transform="translate(1309.08 755.9) rotate(-45)" text-anchor="end" font-size="18.6">10</text>
<text transform="translate(1334.96 755.9) rotate(-45)" text-anchor="end" font-size="18.6">11</text>
<text transform="translate(1360.84 755.9) rotate(-45)" text-anchor="end" font-size="18.6">12</text>
<text transform="translate(1386.72 755.9) rotate(-45)" text-anchor="end" font-size="18.6">13</text>
<text transform="translate(1412.6 755.9) rotate(-45)" text-anchor="end" font-size="18.6">14</text>
<text transform="translate(1438.48 755.9) rotate(-45)" text-anchor="end" font-size="18.6">15</text>
<text transform="translate(1464.36 755.9) rotate(-45)" text-anchor="end" font-size="18.6">16</text>
<text transform="translate(1490.24 755.9) rotate(-45)" text-anchor="end" font-size="18.6">17</text>
<text transform="translate(1516.12 755.9) rotate(-45)" text-anchor="end" font-size="18.6">18</text>
<text transform="translate(1542 755.9) rotate(-45)" text-anchor="end" font-size="18.6">19</text>
<text transform="translate(1567.88 755.9) rotate(-45)" text-anchor="end" font-size="18.6">20</text>
<text transform="translate(1593.76 755.9) rotate(-45)" text-anchor="end" font-size="18.6">21</text>
<text transform="translate(1619.64 755.9) rotate(-45)" text-anchor="end" font-size="18.6">22</text>
<text transform="translate(1645.52 755.9) rotate(-45)" text-anchor="end" font-size="18.6">23</text>
<text transform="translate(1671.4 755.9) rotate(-45)" text-anchor="end" font-size="18.6">24</text>
<text transform="translate(1697.28 755.9) rotate(-45)" text-anchor="end" font-size="18.6">25</text>
<text transform="translate(1723.16 755.9) rotate(-45)" text-anchor="end" font-size="18.6">26</text>
<text transform="translate(1749.04 755.9) rotate(-45)" text-anchor="end" font-size="18.6">27</text>
<path d="M1018.6 726.5V738.4M1044.48 726.5V738.4M1070.36 726.5V738.4M1096.24 726.5V738.4M1122.12 726.5V738.4M1148 726.5V738.4M1173.88 726.5V738.4M1199.76 726.5V738.4M1225.64 726.5V738.4M1251.52 726.5V738.4M1277.4 726.5V738.4M1303.28 726.5V738.4M1329.16 726.5V738.4M1355.04 726.5V738.4M1380.92 726.5V738.4M1406.8 726.5V738.4M1432.68 726.5V738.4M1458.56 726.5V738.4M1484.44 726.5V738.4M1510.32 726.5V738.4M1536.2 726.5V738.4M1562.08 726.5V738.4M1587.96 726.5V738.4M1613.84 726.5V738.4M1639.72 726.5V738.4M1665.6 726.5V738.4M1691.48 726.5V738.4M1717.36 726.5V738.4M1743.24 726.5V738.4" stroke="#000" stroke-width="3.4" fill="none"/>
<text transform="translate(947 597.5) rotate(-90)" text-anchor="middle" font-size="21.2">Relative folds</text>
<text x="1383.6" y="832.3" text-anchor="middle" font-size="21.3">Drug treatment</text>
<text x="1385.6" y="478.8" text-anchor="middle" font-size="31.4">LH</text>
<text x="908.5" y="477.3" font-size="37">D</text>
</g>
<g id="panel-E">
<path d="M411.03 1182V1175.25M406.73 1175.25H415.33" stroke="#1c1c1c" stroke-width="1.5" fill="none"/>
<path d="M436.96 1178.5V1172.3M432.66 1172.3H441.26" stroke="#1c1c1c" stroke-width="1.5" fill="none"/>
<rect x="430.36" y="1179.35" width="13.2" height="1.75" fill="#d9d9d9" stroke="#000" stroke-width="3.7"/>
<path d="M566.61 1103.5V991.25M562.31 991.25H570.91" stroke="#5a5a5a" stroke-width="1.25" fill="none"/>
<rect x="560.01" y="1104.35" width="13.2" height="76.75" fill="#a0a0a4" stroke="#000" stroke-width="3.7"/>
<path d="M851.84 1182V1176.25M847.54 1176.25H856.14" stroke="#1c1c1c" stroke-width="1.5" fill="none"/>
<path d="M109.6 918.95V1183.05" stroke="#000" stroke-width="3.1" fill="none"/>
<path d="M98.6 1181.1H876" stroke="#000" stroke-width="3.9" fill="none"/>
<text x="94" y="1189.2" text-anchor="end" font-size="18.6">0</text>
<text x="94" y="1102.47" text-anchor="end" font-size="18.6">500</text>
<text x="94" y="1015.73" text-anchor="end" font-size="18.6">1000</text>
<text x="94" y="929" text-anchor="end" font-size="18.6">1500</text>
<path d="M98.6 1094.37H109.6M98.6 1007.63H109.6M98.6 920.9H109.6" stroke="#000" stroke-width="3.6" fill="none"/>
<text transform="translate(131.6 1209.3) rotate(-45)" text-anchor="end" font-size="18.6">Blank</text>
<text transform="translate(157.53 1209.3) rotate(-45)" text-anchor="end" font-size="18.6">Model</text>
<text transform="translate(183.46 1209.3) rotate(-45)" text-anchor="end" font-size="18.6">1</text>
<text transform="translate(209.39 1209.3) rotate(-45)" text-anchor="end" font-size="18.6">2</text>
<text transform="translate(235.32 1209.3) rotate(-45)" text-anchor="end" font-size="18.6">3</text>
<text transform="translate(261.25 1209.3) rotate(-45)" text-anchor="end" font-size="18.6">4</text>
<text transform="translate(287.18 1209.3) rotate(-45)" text-anchor="end" font-size="18.6">5</text>
<text transform="translate(313.11 1209.3) rotate(-45)" text-anchor="end" font-size="18.6">6</text>
<text transform="translate(339.04 1209.3) rotate(-45)" text-anchor="end" font-size="18.6">7</text>
<text transform="translate(364.97 1209.3) rotate(-45)" text-anchor="end" font-size="18.6">8</text>
<text transform="translate(390.9 1209.3) rotate(-45)" text-anchor="end" font-size="18.6">9</text>
<text transform="translate(416.83 1209.3) rotate(-45)" text-anchor="end" font-size="18.6">10</text>
<text transform="translate(442.76 1209.3) rotate(-45)" text-anchor="end" font-size="18.6">11</text>
<text transform="translate(468.69 1209.3) rotate(-45)" text-anchor="end" font-size="18.6">12</text>
<text transform="translate(494.62 1209.3) rotate(-45)" text-anchor="end" font-size="18.6">13</text>
<text transform="translate(520.55 1209.3) rotate(-45)" text-anchor="end" font-size="18.6">14</text>
<text transform="translate(546.48 1209.3) rotate(-45)" text-anchor="end" font-size="18.6">15</text>
<text transform="translate(572.41 1209.3) rotate(-45)" text-anchor="end" font-size="18.6">16</text>
<text transform="translate(598.34 1209.3) rotate(-45)" text-anchor="end" font-size="18.6">17</text>
<text transform="translate(624.27 1209.3) rotate(-45)" text-anchor="end" font-size="18.6">18</text>
<text transform="translate(650.2 1209.3) rotate(-45)" text-anchor="end" font-size="18.6">19</text>
<text transform="translate(676.13 1209.3) rotate(-45)" text-anchor="end" font-size="18.6">20</text>
<text transform="translate(702.06 1209.3) rotate(-45)" text-anchor="end" font-size="18.6">21</text>
<text transform="translate(727.99 1209.3) rotate(-45)" text-anchor="end" font-size="18.6">22</text>
<text transform="translate(753.92 1209.3) rotate(-45)" text-anchor="end" font-size="18.6">23</text>
<text transform="translate(779.85 1209.3) rotate(-45)" text-anchor="end" font-size="18.6">24</text>
<text transform="translate(805.78 1209.3) rotate(-45)" text-anchor="end" font-size="18.6">25</text>
<text transform="translate(831.71 1209.3) rotate(-45)" text-anchor="end" font-size="18.6">26</text>
<text transform="translate(857.64 1209.3) rotate(-45)" text-anchor="end" font-size="18.6">27</text>
<path d="M125.8 1181.1V1192M151.73 1181.1V1192M177.66 1181.1V1192M203.59 1181.1V1192M229.52 1181.1V1192M255.45 1181.1V1192M281.38 1181.1V1192M307.31 1181.1V1192M333.24 1181.1V1192M359.17 1181.1V1192M385.1 1181.1V1192M411.03 1181.1V1192M436.96 1181.1V1192M462.89 1181.1V1192M488.82 1181.1V1192M514.75 1181.1V1192M540.68 1181.1V1192M566.61 1181.1V1192M592.54 1181.1V1192M618.47 1181.1V1192M644.4 1181.1V1192M670.33 1181.1V1192M696.26 1181.1V1192M722.19 1181.1V1192M748.12 1181.1V1192M774.05 1181.1V1192M799.98 1181.1V1192M825.91 1181.1V1192M851.84 1181.1V1192" stroke="#000" stroke-width="3.4" fill="none"/>
<text transform="translate(38.7 1051) rotate(-90)" text-anchor="middle" font-size="21.2">Relative folds</text>
<text x="491" y="1285.5" text-anchor="middle" font-size="21.3">Drug treatment</text>
<text x="444.6" y="930" font-size="32.3" font-style="italic">Tnf-<tspan dx="1" font-family='"DejaVu Serif", "Liberation Serif", serif' font-weight="400" font-size="30">α</tspan></text>
<text x="5.5" y="931.3" font-size="37">E</text>
</g>
<g id="panel-F">
<path d="M1018.6 1162.5V1153M1014.3 1153H1022.9" stroke="#1c1c1c" stroke-width="1.5" fill="none"/>
<rect x="1012" y="1163.35" width="13.2" height="17.8" fill="#000000" stroke="#000" stroke-width="3.7"/>
<path d="M1044.47 1145V1136.75M1040.17 1136.75H1048.77" stroke="#1c1c1c" stroke-width="1.5" fill="none"/>
<rect x="1037.87" y="1145.85" width="13.2" height="35.3" fill="#a0a0a4" stroke="#000" stroke-width="3.7"/>
<path d="M1070.34 1134.75V1097M1066.04 1097H1074.64" stroke="#1c1c1c" stroke-width="1.5" fill="none"/>
<rect x="1063.74" y="1135.6" width="13.2" height="45.55" fill="#828282" stroke="#000" stroke-width="3.7"/>
<path d="M1096.21 1102.5V1085.25M1091.91 1085.25H1100.51" stroke="#1c1c1c" stroke-width="1.5" fill="none"/>
<rect x="1089.61" y="1103.35" width="13.2" height="77.8" fill="#d9d9d9" stroke="#000" stroke-width="3.7"/>
<path d="M1122.08 1136.25V1067.5M1117.78 1067.5H1126.38" stroke="#1c1c1c" stroke-width="1.5" fill="none"/>
<rect x="1115.48" y="1137.1" width="13.2" height="44.05" fill="#666666" stroke="#000" stroke-width="3.7"/>
<path d="M1147.95 1164V1145.75M1143.65 1145.75H1152.25" stroke="#1c1c1c" stroke-width="1.5" fill="none"/>
<rect x="1141.35" y="1164.85" width="13.2" height="16.3" fill="#a0a0a4" stroke="#000" stroke-width="3.7"/>
<path d="M1173.82 1174.5V1166.25M1169.52 1166.25H1178.12" stroke="#1c1c1c" stroke-width="1.5" fill="none"/>
<rect x="1167.22" y="1175.35" width="13.2" height="5.8" fill="#666666" stroke="#000" stroke-width="3.7"/>
<path d="M1199.69 1170.25V1163.25M1195.39 1163.25H1203.99" stroke="#1c1c1c" stroke-width="1.5" fill="none"/>
<rect x="1193.09" y="1171.1" width="13.2" height="10.05" fill="#e8e8e8" stroke="#000" stroke-width="3.7"/>
<path d="M1225.56 1174.5V1165M1221.26 1165H1229.86" stroke="#1c1c1c" stroke-width="1.5" fill="none"/>
<rect x="1218.96" y="1175.35" width="13.2" height="5.8" fill="#a0a0a4" stroke="#000" stroke-width="3.7"/>
<path d="M1251.43 1162.5V1153M1247.13 1153H1255.73" stroke="#1c1c1c" stroke-width="1.5" fill="none"/>
<rect x="1244.83" y="1163.35" width="13.2" height="17.8" fill="#000000" stroke="#000" stroke-width="3.7"/>
<path d="M1277.3 1162.5V1147M1273 1147H1281.6" stroke="#1c1c1c" stroke-width="1.5" fill="none"/>
<rect x="1270.7" y="1163.35" width="13.2" height="17.8" fill="#a0a0a4" stroke="#000" stroke-width="3.7"/>
<rect x="1296.57" y="1172.6" width="13.2" height="8.55" fill="#828282" stroke="#000" stroke-width="3.7"/>
<path d="M1329.04 1027.25V991.75M1324.74 991.75H1333.34" stroke="#404040" stroke-width="1.25" fill="none"/>
<rect x="1322.44" y="1028.1" width="13.2" height="153.05" fill="#d9d9d9" stroke="#000" stroke-width="3.7"/>
<path d="M1406.65 1165.5V1142.5M1402.35 1142.5H1410.95" stroke="#505050" stroke-width="1.25" fill="none"/>
<rect x="1400.05" y="1166.35" width="13.2" height="14.8" fill="#666666" stroke="#000" stroke-width="3.7"/>
<path d="M1432.52 1177.25V1172M1428.22 1172H1436.82" stroke="#1c1c1c" stroke-width="1.5" fill="none"/>
<rect x="1425.92" y="1178.1" width="13.2" height="3.05" fill="#e8e8e8" stroke="#000" stroke-width="3.7"/>
<rect x="1503.53" y="1173.85" width="13.2" height="7.3" fill="#a0a0a4" stroke="#000" stroke-width="3.7"/>
<path d="M1561.87 1162.5V1141.25M1557.57 1141.25H1566.17" stroke="#1c1c1c" stroke-width="1.5" fill="none"/>
<rect x="1555.27" y="1163.35" width="13.2" height="17.8" fill="#d9d9d9" stroke="#000" stroke-width="3.7"/>
<path d="M1587.74 1084.75V945.75M1583.44 945.75H1592.04" stroke="#6e6e6e" stroke-width="1.25" fill="none"/>
<rect x="1581.14" y="1085.6" width="13.2" height="95.55" fill="#666666" stroke="#000" stroke-width="3.7"/>
<path d="M1613.61 1173V1169M1609.31 1169H1617.91" stroke="#1c1c1c" stroke-width="1.5" fill="none"/>
<rect x="1607.01" y="1173.85" width="13.2" height="7.3" fill="#a0a0a4" stroke="#000" stroke-width="3.7"/>
<path d="M1639.48 1149.25V1095.75M1635.18 1095.75H1643.78" stroke="#1c1c1c" stroke-width="1.5" fill="none"/>
<rect x="1632.88" y="1150.1" width="13.2" height="31.05" fill="#666666" stroke="#000" stroke-width="3.7"/>
<path d="M1665.35 1159.75V1133.75M1661.05 1133.75H1669.65" stroke="#1c1c1c" stroke-width="1.5" fill="none"/>
<rect x="1658.75" y="1160.6" width="13.2" height="20.55" fill="#e8e8e8" stroke="#000" stroke-width="3.7"/>
<path d="M1691.22 1177.25V1172M1686.92 1172H1695.52" stroke="#1c1c1c" stroke-width="1.5" fill="none"/>
<rect x="1684.62" y="1178.1" width="13.2" height="3.05" fill="#a0a0a4" stroke="#000" stroke-width="3.7"/>
<path d="M1717.09 1158.25V1133.75M1712.79 1133.75H1721.39" stroke="#606060" stroke-width="1.25" fill="none"/>
<rect x="1710.49" y="1159.1" width="13.2" height="22.05" fill="#000000" stroke="#000" stroke-width="3.7"/>
<path d="M1742.96 1177.25V1173.75M1738.66 1173.75H1747.26" stroke="#1c1c1c" stroke-width="1.5" fill="none"/>
<rect x="1736.36" y="1178.1" width="13.2" height="3.05" fill="#a0a0a4" stroke="#000" stroke-width="3.7"/>
<path d="M1001.15 920.6V1183.15" stroke="#000" stroke-width="4" fill="none"/>
<path d="M990.15 1181.15H1766.5" stroke="#000" stroke-width="4" fill="none"/>
<text x="986.3" y="1188.45" text-anchor="end" font-size="18.6">0</text>
<text x="986.3" y="1136.74" text-anchor="end" font-size="18.6">2</text>
<text x="986.3" y="1085.03" text-anchor="end" font-size="18.6">4</text>
<text x="986.3" y="1033.32" text-anchor="end" font-size="18.6">6</text>
<text x="986.3" y="981.61" text-anchor="end" font-size="18.6">8</text>
<text x="986.3" y="929.9" text-anchor="end" font-size="18.6">10</text>
<path d="M990.15 1129.44H1001.15M990.15 1077.73H1001.15M990.15 1026.02H1001.15M990.15 974.31H1001.15M990.15 922.6H1001.15" stroke="#000" stroke-width="3.7" fill="none"/>
<text transform="translate(1024.4 1209.75) rotate(-45)" text-anchor="end" font-size="18.6">Blank</text>
<text transform="translate(1050.27 1209.75) rotate(-45)" text-anchor="end" font-size="18.6">Model</text>
<text transform="translate(1076.14 1209.75) rotate(-45)" text-anchor="end" font-size="18.6">1</text>
<text transform="translate(1102.01 1209.75) rotate(-45)" text-anchor="end" font-size="18.6">2</text>
<text transform="translate(1127.88 1209.75) rotate(-45)" text-anchor="end" font-size="18.6">3</text>
<text transform="translate(1153.75 1209.75) rotate(-45)" text-anchor="end" font-size="18.6">4</text>
<text transform="translate(1179.62 1209.75) rotate(-45)" text-anchor="end" font-size="18.6">5</text>
<text transform="translate(1205.49 1209.75) rotate(-45)" text-anchor="end" font-size="18.6">6</text>
<text transform="translate(1231.36 1209.75) rotate(-45)" text-anchor="end" font-size="18.6">7</text>
<text transform="translate(1257.23 1209.75) rotate(-45)" text-anchor="end" font-size="18.6">8</text>
<text transform="translate(1283.1 1209.75) rotate(-45)" text-anchor="end" font-size="18.6">9</text>
<text transform="translate(1308.97 1209.75) rotate(-45)" text-anchor="end" font-size="18.6">10</text>
<text transform="translate(1334.84 1209.75) rotate(-45)" text-anchor="end" font-size="18.6">11</text>
<text transform="translate(1360.71 1209.75) rotate(-45)" text-anchor="end" font-size="18.6">12</text>
<text transform="translate(1386.58 1209.75) rotate(-45)" text-anchor="end" font-size="18.6">13</text>
<text transform="translate(1412.45 1209.75) rotate(-45)" text-anchor="end" font-size="18.6">14</text>
<text transform="translate(1438.32 1209.75) rotate(-45)" text-anchor="end" font-size="18.6">15</text>
<text transform="translate(1464.19 1209.75) rotate(-45)" text-anchor="end" font-size="18.6">16</text>
<text transform="translate(1490.06 1209.75) rotate(-45)" text-anchor="end" font-size="18.6">17</text>
<text transform="translate(1515.93 1209.75) rotate(-45)" text-anchor="end" font-size="18.6">18</text>
<text transform="translate(1541.8 1209.75) rotate(-45)" text-anchor="end" font-size="18.6">19</text>
<text transform="translate(1567.67 1209.75) rotate(-45)" text-anchor="end" font-size="18.6">20</text>
<text transform="translate(1593.54 1209.75) rotate(-45)" text-anchor="end" font-size="18.6">21</text>
<text transform="translate(1619.41 1209.75) rotate(-45)" text-anchor="end" font-size="18.6">22</text>
<text transform="translate(1645.28 1209.75) rotate(-45)" text-anchor="end" font-size="18.6">23</text>
<text transform="translate(1671.15 1209.75) rotate(-45)" text-anchor="end" font-size="18.6">24</text>
<text transform="translate(1697.02 1209.75) rotate(-45)" text-anchor="end" font-size="18.6">25</text>
<text transform="translate(1722.89 1209.75) rotate(-45)" text-anchor="end" font-size="18.6">26</text>
<text transform="translate(1748.76 1209.75) rotate(-45)" text-anchor="end" font-size="18.6">27</text>
<path d="M1018.6 1181.15V1191.65M1044.47 1181.15V1191.65M1070.34 1181.15V1191.65M1096.21 1181.15V1191.65M1122.08 1181.15V1191.65M1147.95 1181.15V1191.65M1173.82 1181.15V1191.65M1199.69 1181.15V1191.65M1225.56 1181.15V1191.65M1251.43 1181.15V1191.65M1277.3 1181.15V1191.65M1303.17 1181.15V1191.65M1329.04 1181.15V1191.65M1354.91 1181.15V1191.65M1380.78 1181.15V1191.65M1406.65 1181.15V1191.65M1432.52 1181.15V1191.65M1458.39 1181.15V1191.65M1484.26 1181.15V1191.65M1510.13 1181.15V1191.65M1536 1181.15V1191.65M1561.87 1181.15V1191.65M1587.74 1181.15V1191.65M1613.61 1181.15V1191.65M1639.48 1181.15V1191.65M1665.35 1181.15V1191.65M1691.22 1181.15V1191.65M1717.09 1181.15V1191.65M1742.96 1181.15V1191.65" stroke="#000" stroke-width="3.4" fill="none"/>
<text transform="translate(951.7 1051) rotate(-90)" text-anchor="middle" font-size="21.2">Relative folds</text>
<text x="1383" y="1285.5" text-anchor="middle" font-size="21.3">Drug treatment</text>
<text x="1347" y="930" font-size="32.3" font-style="italic">Ifn-<tspan dx="-0.6" font-family='"DejaVu Serif", "Liberation Serif", serif' font-weight="400" font-size="30">γ</tspan></text>
<text x="912.2" y="931.3" font-size="37">F</text>
</g>
</svg>
</body>
</html>
